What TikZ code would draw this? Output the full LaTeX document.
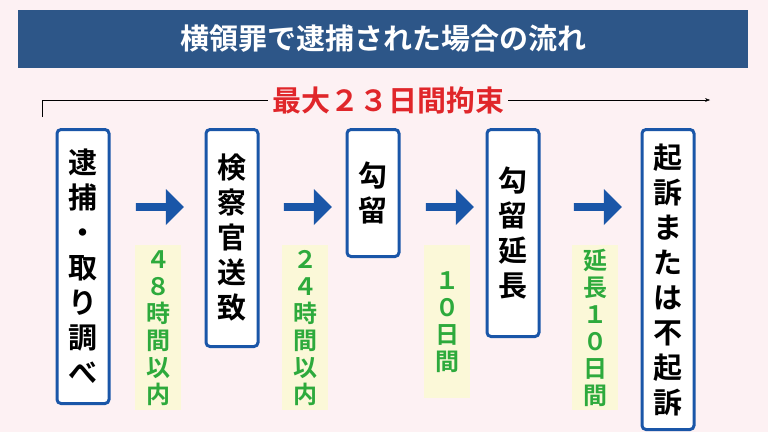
\documentclass[tikz,border=0pt]{standalone}
\usepackage{fontspec}
\setmainfont{Noto Sans CJK JP Bold}
\usetikzlibrary{arrows.meta,positioning,shapes.arrows}
\definecolor{bgpink}{HTML}{FDF1F3}
\definecolor{titleblue}{HTML}{2D5688}
\definecolor{boxblue}{HTML}{1A56A8}
\definecolor{termyellow}{HTML}{FBF8D8}
\definecolor{termgreen}{HTML}{2DAA3C}
\definecolor{limitred}{HTML}{E0262A}
\begin{document}
\begin{tikzpicture}[x=1pt, y=-1pt,
  stage/.style={rectangle, rounded corners=4pt, draw=boxblue, line width=3pt, fill=white, align=center, minimum width=52pt, anchor=north, font=\fontsize{29}{35}\selectfont, inner sep=0pt},
  term/.style={rectangle, fill=termyellow, align=center, minimum width=46pt, anchor=north, font=\fontsize{24}{27}\selectfont, text=termgreen, inner sep=0pt},
  flow/.style={single arrow, fill=boxblue, minimum height=48pt, minimum width=36pt, single arrow head extend=8pt, inner sep=2pt}
]
\fill[bgpink] (0,0) rectangle (768,432);
\useasboundingbox (0,0) rectangle (768,432);

% title
\node[fill=titleblue, minimum width=730pt, minimum height=58pt, text=white, font=\fontsize{29}{32}\selectfont] (title) at (383,39) {横領罪で逮捕された場合の流れ};

% overall limit
\coordinate (limstart) at (42,117);
\coordinate (limend) at (710,100);
\draw[-{Stealth[length=5pt]}, thin] (limstart) |- (limend);
\node[fill=bgpink, text=limitred, font=\fontsize{29}{32}\selectfont, inner sep=4pt] (limit) at (388,100) {最大２３日間拘束};

% steps
\node[stage, minimum height=274pt] (arrest) at (83,128) {逮\\捕\\・\\取\\り\\調\\べ};
\node[stage, minimum height=217pt] (send) at (232,128) {検\\察\\官\\送\\致};
\node[stage, minimum height=127pt] (detain) at (373,128) {勾\\留};
\node[stage, minimum height=207pt] (extend) at (513,128) {勾\\留\\延\\長};
\node[stage, minimum height=300pt] (indict) at (668,128) {起\\訴\\ま\\た\\は\\不\\起\\訴};

% arrows between steps
\node[flow] (a1) at (158,207) {};
\node[flow] (a2) at (306,207) {};
\node[flow] (a3) at (448,207) {};
\node[flow] (a4) at (596,207) {};

% durations
\node[term, minimum height=165pt] (t1) at (158,245) {４\\８\\時\\間\\以\\内};
\node[term, minimum height=165pt] (t2) at (305,245) {２\\４\\時\\間\\以\\内};
\node[term, minimum height=153pt] (t3) at (447,245) {１\\０\\日\\間};
\node[term, minimum height=165pt] (t4) at (595,245) {延\\長\\１\\０\\日\\間};
\end{tikzpicture}
\end{document}
